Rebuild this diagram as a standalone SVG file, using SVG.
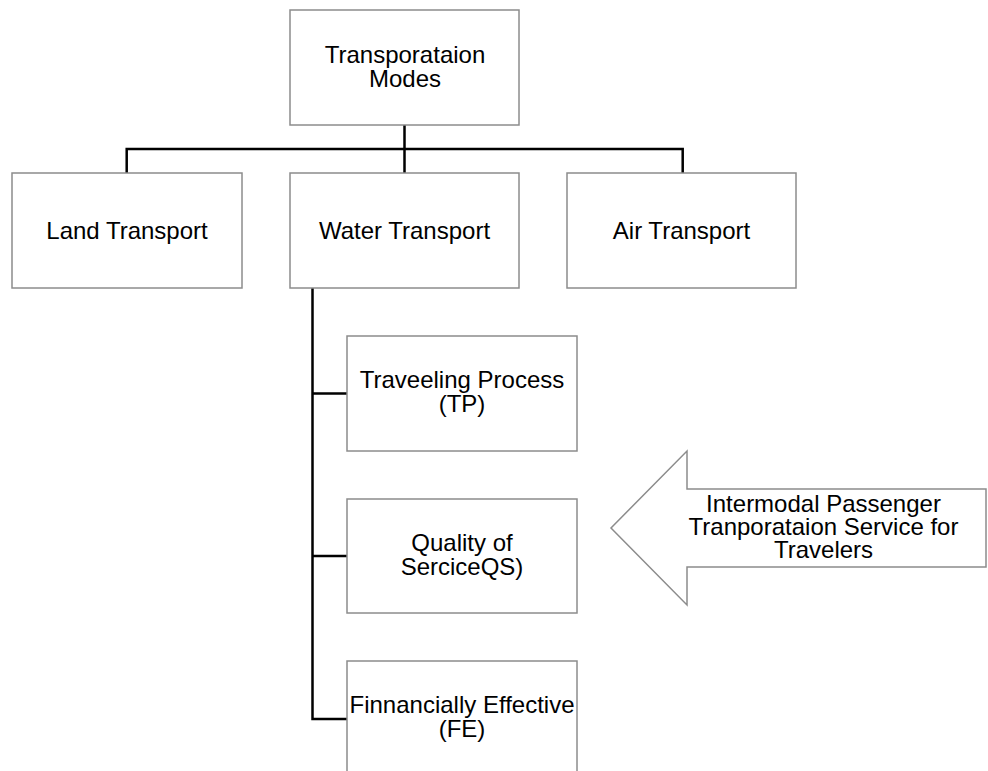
<svg xmlns="http://www.w3.org/2000/svg" width="988" height="771" viewBox="0 0 988 771">
<style>
.box{fill:#fff;stroke:#8c8c8c;stroke-width:1.5}
.t{font-family:"Liberation Sans",Arial,sans-serif;font-size:24px;fill:#000;text-anchor:middle}
.c{fill:none;stroke:#000;stroke-width:2.5}
</style>
<rect width="988" height="771" fill="#fff"/>
<g id="connectors">
<path class="c" d="M404.5,125 V149 M126.7,173 V149 H682.7 V173 M404.5,149 V173"/>
<path class="c" d="M312.5,288 V719 H347 M312.5,393.5 H347 M312.5,556 H347"/>
</g>
<g id="modes">
<rect class="box" x="290" y="10" width="229" height="115"/>
<text class="t" x="405" y="63.3">Transporataion</text>
<text class="t" x="405" y="86.7">Modes</text>
</g>
<g id="land">
<rect class="box" x="12" y="173" width="230" height="115"/>
<text class="t" x="127" y="238.5">Land Transport</text>
</g>
<g id="water">
<rect class="box" x="290" y="173" width="229" height="115"/>
<text class="t" x="404.5" y="238.5">Water Transport</text>
</g>
<g id="air">
<rect class="box" x="567" y="173" width="229" height="115"/>
<text class="t" x="681.5" y="238.5">Air Transport</text>
</g>
<g id="tp">
<rect class="box" x="347" y="336" width="230" height="115"/>
<text class="t" x="462" y="388.3">Traveeling Process</text>
<text class="t" x="462" y="411.7">(TP)</text>
</g>
<g id="qs">
<rect class="box" x="347" y="499" width="230" height="114"/>
<text class="t" x="462" y="551">Quality of</text>
<text class="t" x="462" y="575">SerciceQS)</text>
</g>
<g id="fe">
<rect class="box" x="347" y="661" width="230" height="120"/>
<text class="t" x="462" y="713.3">Finnancially Effective</text>
<text class="t" x="462" y="736.7">(FE)</text>
</g>
<g id="arrow">
<polygon class="box" points="986,489 687,489 687,451 611,528 687,605 687,567 986,567"/>
<text class="t" x="823.5" y="511.7">Intermodal Passenger</text>
<text class="t" x="823.5" y="535">Tranporataion Service for</text>
<text class="t" x="823.5" y="558.3">Travelers</text>
</g>
</svg>
